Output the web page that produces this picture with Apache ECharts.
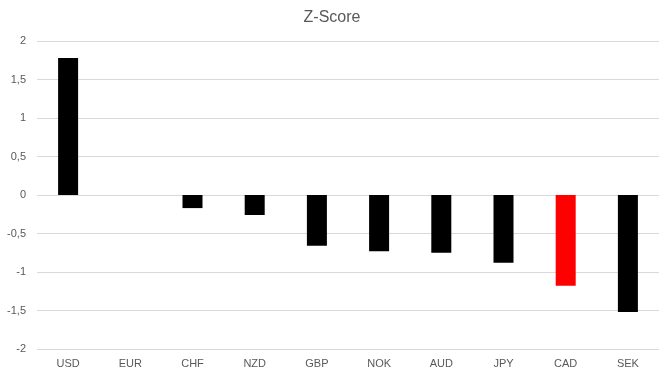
<!DOCTYPE html>
<html><head><meta charset="utf-8">
<script src="https://cdn.jsdelivr.net/npm/echarts@6/dist/echarts.min.js"></script>
<style>html,body{margin:0;padding:0;background:#fff}#c{width:664px;height:374px}</style>
</head><body><div id="c"></div>
<script>
const categories = ["USD","EUR","CHF","NZD","GBP","NOK","AUD","JPY","CAD","SEK"];
const zScores = [1.78, 0, -0.17, -0.26, -0.66, -0.73, -0.75, -0.88, -1.18, -1.52];
const barColors = ["#000000","#000000","#000000","#000000","#000000","#000000","#000000","#000000","#ff0000","#000000"];
const yTicks = [-2, -1.5, -1, -0.5, 0, 0.5, 1, 1.5, 2];

const chart = echarts.init(document.getElementById('c'), null, {renderer:'canvas'});
const font = "'Liberation Sans', 'Open Sans', sans-serif";
chart.setOption({
  animation:false,
  title:{text:'Z-Score', left:'center', top:5, textStyle:{fontFamily:font, fontSize:16, fontWeight:'normal', color:'#595959'}},
  grid:{left:37, right:5, top:41, bottom:25, containLabel:false},
  xAxis:{type:'category', data:categories, axisLine:{show:false}, axisTick:{show:false},
    axisLabel:{fontFamily:font, fontSize:11, color:'#595959', margin:9}},
  yAxis:{type:'value', min:yTicks[0], max:yTicks[yTicks.length-1], interval:0.5,
    axisLine:{show:false}, axisTick:{show:false},
    splitLine:{lineStyle:{color:'#d9d9d9', width:1}},
    axisLabel:{fontFamily:font, fontSize:11, color:'#595959', margin:11,
      formatter:v=>String(v).replace('.',',')}},
  series:[{type:'bar', barWidth:20,
    data:zScores.map((v,i)=>({value:v, itemStyle:{color:barColors[i]}}))}]
});
</script></body></html>
